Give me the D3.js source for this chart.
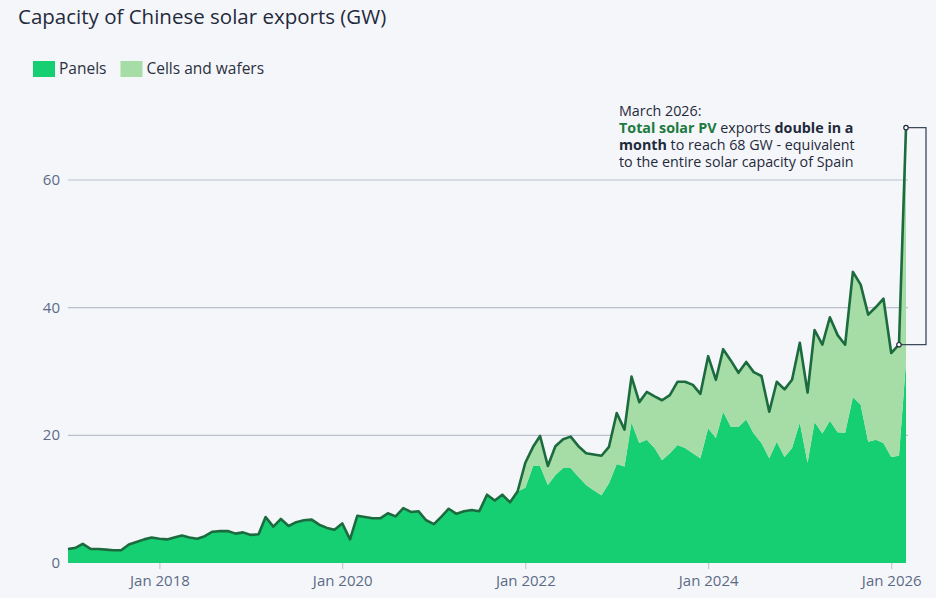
<!DOCTYPE html>
<html>
<head>
<meta charset="utf-8">
<script src="https://cdn.jsdelivr.net/npm/d3@7"></script>
<style>
  body { margin: 0; background: #f5f6fa; font-family: "Open Sans", sans-serif; }
  svg text { font-family: "Open Sans", sans-serif; }
</style>
</head>
<body>
<svg id="chart" width="936" height="598"></svg>
<script>
// monthly values, Jan 2017 .. Mar 2026
const startMonth = new Date(2017, 0, 1);
const totalGW = [
  2.2, 2.4, 3.0, 2.2, 2.2, 2.1, 2.0, 2.0, 2.9, 3.3, 3.7, 4.0,
  3.8, 3.7, 4.0, 4.3, 4.0, 3.8, 4.2, 4.9, 5.0, 5.0, 4.6, 4.8,
  4.4, 4.5, 7.2, 5.7, 6.9, 5.8, 6.4, 6.7, 6.8, 6.0, 5.5, 5.2,
  6.2, 3.7, 7.4, 7.2, 7.0, 7.0, 7.8, 7.3, 8.6, 8.0, 8.1, 6.7,
  6.1, 7.3, 8.5, 7.7, 8.1, 8.3, 8.1, 10.7, 9.8, 10.7, 9.5, 11.2,
  15.7, 18.2, 19.9, 15.2, 18.3, 19.4, 19.8, 18.3, 17.2, 17.0, 16.8, 18.2,
  23.5, 20.9, 29.2, 25.2, 26.8, 26.1, 25.5, 26.3, 28.4, 28.4, 27.9, 26.5,
  32.4, 28.7, 33.5, 31.7, 29.8, 31.5, 29.9, 29.3, 23.7, 28.4, 27.2, 28.7,
  34.5, 26.7, 36.5, 34.2, 38.5, 35.7, 34.2, 45.6, 43.6, 38.9, 40.1, 41.4,
  32.9, 34.2, 68.2
];
const panelsGW = [
  2.2, 2.4, 3.0, 2.2, 2.2, 2.1, 2.0, 2.0, 2.9, 3.3, 3.7, 4.0,
  3.8, 3.7, 4.0, 4.3, 4.0, 3.8, 4.2, 4.9, 5.0, 5.0, 4.6, 4.8,
  4.4, 4.5, 7.2, 5.7, 6.9, 5.8, 6.4, 6.7, 6.8, 6.0, 5.5, 5.2,
  6.2, 3.7, 7.4, 7.2, 7.0, 7.0, 7.8, 7.3, 8.6, 8.0, 8.1, 6.7,
  6.1, 7.3, 8.5, 7.7, 8.1, 8.3, 8.1, 10.7, 9.8, 10.7, 9.5, 11.2,
  11.8, 15.2, 15.2, 12.2, 13.8, 14.9, 14.9, 13.5, 12.2, 11.4, 10.6, 12.5,
  15.5, 15.1, 22.0, 18.8, 19.3, 18.0, 16.1, 17.2, 18.5, 18.0, 17.2, 16.4,
  21.1, 19.6, 23.7, 21.3, 21.3, 22.5, 20.3, 18.8, 16.4, 19.0, 16.6, 18.0,
  22.0, 15.7, 22.1, 20.3, 22.3, 20.5, 20.4, 26.0, 24.8, 19.0, 19.3, 18.8,
  16.6, 16.8, 31.5
];
const yTicks = [0, 20, 40, 60];
const xTickYears = [2018, 2020, 2022, 2024, 2026];
const seriesNames = ["Panels", "Cells and wafers"];
const seriesColors = ["#17cf73", "#a6dca6"];

const data = totalGW.map((t, i) => ({
  date: new Date(startMonth.getFullYear(), startMonth.getMonth() + i, 1),
  panels: panelsGW[i],
  cells: Math.max(0, t - panelsGW[i]),
  total: t
}));

const svg = d3.select("#chart");

const x = d3.scaleTime()
  .domain(d3.extent(data, d => d.date))
  .range([68, 906]);
const y = d3.scaleLinear().domain([0, 60]).range([563, 180]);

svg.append("text").attr("x", 18).attr("y", 24)
  .attr("font-size", 20.5).attr("fill", "#1f2a3c")
  .text("Capacity of Chinese solar exports (GW)");

// legend
const leg = svg.append("g").attr("transform", "translate(33,61)");
let lx = 0;
seriesNames.forEach((n, i) => {
  leg.append("rect").attr("x", lx).attr("y", 0).attr("width", 22).attr("height", 16).attr("fill", seriesColors[i]);
  const t = leg.append("text").attr("x", lx + 26).attr("y", 13).attr("font-size", 15.5).attr("fill", "#2a3140").text(n);
  lx += 26 + t.node().getComputedTextLength() + 14;
});

// grid
svg.append("g").selectAll("line").data(yTicks.filter(d => d > 0)).join("line")
  .attr("x1", 68).attr("x2", 908)
  .attr("y1", d => y(d)).attr("y2", d => y(d))
  .attr("stroke", "#b9bfcc").attr("stroke-width", 1.2);

svg.append("g").selectAll("text").data(yTicks).join("text")
  .attr("x", 60).attr("y", d => y(d) + 5).attr("text-anchor", "end")
  .attr("font-size", 15).attr("fill", "#5b6b86").text(d => d);

const stack = d3.stack().keys(["panels", "cells"])(data);
const area = d3.area().x(d => x(d.data.date)).y0(d => y(d[0])).y1(d => y(d[1]));
svg.append("g").selectAll("path").data(stack).join("path")
  .attr("d", area).attr("fill", (d, i) => seriesColors[i]);

svg.append("path").datum(data)
  .attr("fill", "none").attr("stroke", "#1c6b3f").attr("stroke-width", 2.6)
  .attr("stroke-linejoin", "round")
  .attr("d", d3.line().x(d => x(d.date)).y(d => y(d.total)));

// x axis
const xa = svg.append("g").attr("transform", `translate(0,${y(0)})`)
  .call(d3.axisBottom(x).tickValues(xTickYears.map(yr => new Date(yr, 0, 1)))
    .tickFormat(d3.timeFormat("Jan %Y")).tickSize(6).tickSizeOuter(0));
xa.select(".domain").remove();
xa.selectAll("line").attr("stroke", "#b9bfcc");
xa.selectAll("text").attr("font-size", 15).attr("fill", "#5b6b86").attr("dy", "0.95em");

// annotation bracket
const last = data[data.length - 1], prev = data[data.length - 2];
const bx = 926;
svg.append("path")
  .attr("d", `M${x(last.date)},${y(last.total)}H${bx}V${y(prev.total)}H${x(prev.date)}`)
  .attr("fill", "none").attr("stroke", "#3d4a5c").attr("stroke-width", 1.3);
[last, prev].forEach(d => svg.append("circle").attr("cx", x(d.date)).attr("cy", y(d.total))
  .attr("r", 2.2).attr("fill", "#fff").attr("stroke", "#1f2a3c").attr("stroke-width", 1.2));

const annLines = [
  [["March 2026:", false, null]],
  [["Total solar PV", true, "#1c7a3f"], [" exports ", false, null], ["double in a", true, null]],
  [["month", true, null], [" to reach 68 GW - equivalent", false, null]],
  [["to the entire solar capacity of Spain", false, null]]
];
annLines.forEach((parts, li) => {
  const t = svg.append("text").attr("x", 619).attr("y", 116 + li * 17)
    .attr("font-size", 14.3).attr("fill", "#1f2a3c");
  parts.forEach(([s, b, c]) => {
    const sp = t.append("tspan").text(s);
    if (b) sp.attr("font-weight", "bold");
    if (c) sp.attr("fill", c);
  });
});
</script>
</body>
</html>
